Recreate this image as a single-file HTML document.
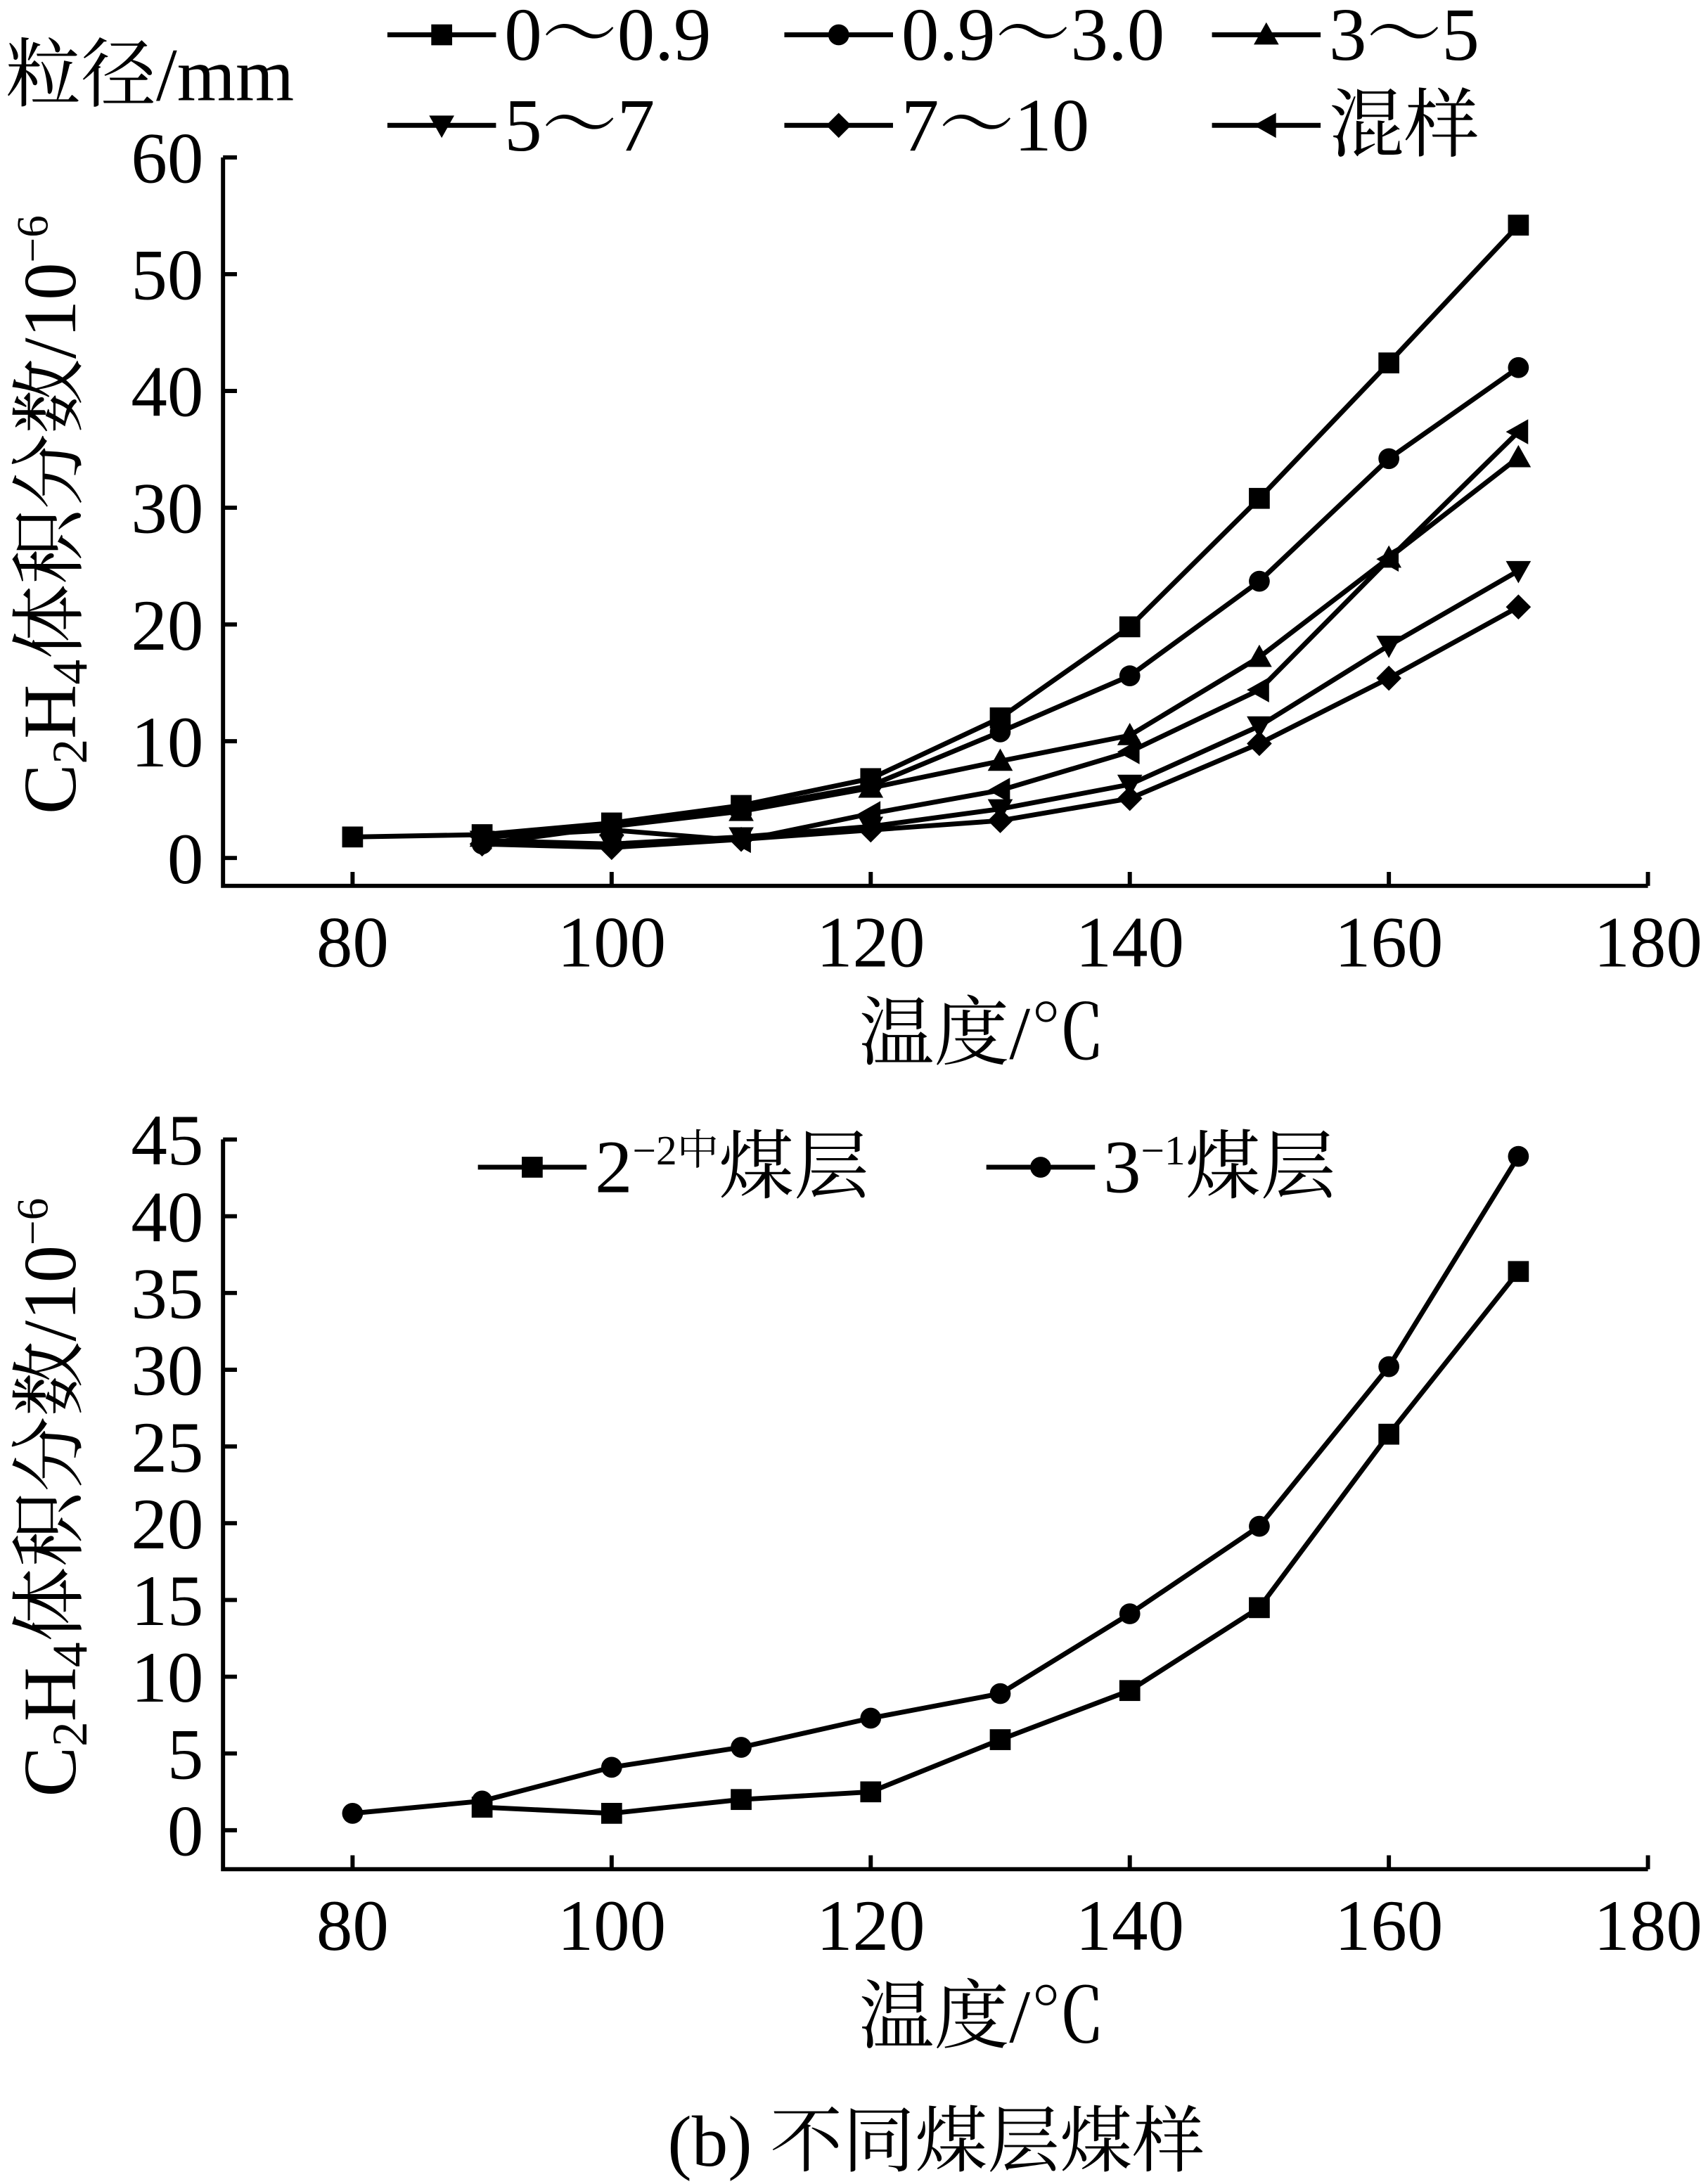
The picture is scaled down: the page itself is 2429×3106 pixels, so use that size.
<!DOCTYPE html>
<html><head><meta charset="utf-8"><style>
html,body{margin:0;padding:0;background:#fff}
svg{display:block}
text{font-family:"Liberation Serif","Noto Serif CJK SC","Noto Sans CJK SC",serif;fill:#000}
</style></head><body>
<svg id="svg" width="2429" height="3106" viewBox="0 0 1226 1568" xmlns="http://www.w3.org/2000/svg">
<g id="top"></g>
<g id="bot"></g>
<text x="672" y="1555" font-size="52" text-anchor="middle">(b)  不同煤层煤样</text>
</svg>
<script>
const xCats = [80, 90, 100, 110, 120, 130, 140, 150, 160, 170];
const xTicks = [80, 100, 120, 140, 160, 180];
const topYTicks = [0, 10, 20, 30, 40, 50, 60];
const topNames = ["0～0.9", "0.9～3.0", "3～5", "5～7", "7～10", "混样"];
const s0 = [1.8, 2.0, 3.0, 4.5, 6.8, 12.0, 19.8, 30.8, 42.4, 54.2];
const s1 = [null, 1.2, 2.7, 4.2, 6.2, 10.8, 15.6, 23.7, 34.2, 42.0];
const s2 = [null, 1.8, 2.7, 4.0, 6.0, 8.3, 10.5, 17.2, 25.7, 34.3];
const s3 = [null, 1.5, 1.2, 1.8, 2.7, 4.2, 6.3, 11.3, 18.2, 24.6];
const s4 = [null, 1.2, 0.9, 1.6, 2.4, 3.2, 5.1, 9.8, 15.4, 21.5];
const s5 = [null, 1.8, 2.4, 1.5, 3.8, 5.8, 9.1, 14.4, 25.6, 36.5];
const botYTicks = [0, 5, 10, 15, 20, 25, 30, 35, 40, 45];
const b0 = [null, 1.5, 1.1, 2.0, 2.5, 5.9, 9.1, 14.5, 25.8, 36.4];
const b1 = [1.1, 1.9, 4.1, 5.4, 7.3, 8.9, 14.1, 19.8, 30.2, 43.9];

const NS = "http://www.w3.org/2000/svg";
function mk(parent, tag, attrs, txt) {
  const e = document.createElementNS(NS, tag);
  for (const k in attrs) e.setAttribute(k, attrs[k]);
  if (txt !== undefined) e.textContent = txt;
  parent.appendChild(e);
  return e;
}
function marker(g, type, x, y) {
  const r = 7.5;
  let el;
  if (type === "square") el = mk(g, "rect", {x: x - r, y: y - r, width: 2 * r, height: 2 * r});
  else if (type === "circle") el = mk(g, "circle", {cx: x, cy: y, r: r});
  else if (type === "up") el = mk(g, "polygon", {points: `${x},${y - 9} ${x - 9},${y + 7} ${x + 9},${y + 7}`});
  else if (type === "down") el = mk(g, "polygon", {points: `${x},${y + 9} ${x - 9},${y - 7} ${x + 9},${y - 7}`});
  else if (type === "diamond") el = mk(g, "polygon", {points: `${x},${y - 9} ${x + 9},${y} ${x},${y + 9} ${x - 9},${y}`});
  else el = mk(g, "polygon", {points: `${x - 9},${y} ${x + 7},${y - 9} ${x + 7},${y + 9}`});
  
  
  el.setAttribute('fill', '#000');
}
function chart(g, o) {
  const xs = v => o.x0 + (v - 80) * o.kx;
  const ys = v => o.y0 - v * o.ky;
  const ax = mk(g, "path", {d: `M${o.left},${o.top} L${o.left},${o.bottom} L${o.right},${o.bottom}`, fill: "none", stroke: "#000", "stroke-width": 3});
  
  
  o.yTicks.forEach(v => {
    const t = mk(g, "line", {x1: o.left, x2: o.left + 10, y1: ys(v), y2: ys(v), stroke: "#000", "stroke-width": 3});
    
    
    const l = mk(g, "text", {x: o.left - 14, y: ys(v) + 18, "font-size": 52, "text-anchor": "end"}, String(v));
    
    
  });
  xTicks.forEach(v => {
    const t = mk(g, "line", {x1: xs(v), x2: xs(v), y1: o.bottom, y2: o.bottom - 10, stroke: "#000", "stroke-width": 3});
    
    
    const l = mk(g, "text", {x: xs(v), y: o.bottom + 58, "font-size": 52, "text-anchor": "middle"}, String(v));
    
    
  });
  const xt = mk(g, "text", {x: 705, y: o.bottom + 124, "font-size": 54, "text-anchor": "middle"}, "温度/℃");
  
  
  const cy = (o.top + o.bottom) / 2 - 5;
  const yt = mk(g, "text", {x: 0, y: 0, "font-size": 54, "text-anchor": "middle", transform: `translate(54,${cy}) rotate(-90)`});
  
  
  mk(yt, "tspan", {}, "C");
  mk(yt, "tspan", {"font-size": 36, dy: 8}, "2");
  mk(yt, "tspan", {dy: -8}, "H");
  mk(yt, "tspan", {"font-size": 36, dy: 8}, "4");
  mk(yt, "tspan", {dy: -8}, "体积分数/10");
  mk(yt, "tspan", {"font-size": 32, dy: -20}, "−6");
  o.series.forEach((s, i) => {
    const sg = mk(g, "g", {});
    
    
    let d = "";
    s.data.forEach((v, j) => { if (v !== null) d += (d ? "L" : "M") + xs(xCats[j]) + "," + ys(v); });
    const p = mk(sg, "path", {d: d, fill: "none", stroke: "#000", "stroke-width": 3.5});
    
    
    s.data.forEach((v, j) => { if (v !== null) marker(sg, s.m, xs(xCats[j]), ys(v)); });
  });
  o.legend.forEach(L => {
    const lg = mk(g, "g", {});
    
    
    const ln = mk(lg, "line", {x1: L.x, x2: L.x + 78, y1: L.y, y2: L.y, stroke: "#000", "stroke-width": 3.5});
    
    
    marker(lg, L.m, L.x + 39, L.y);
    const t = mk(lg, "text", {x: L.x + 84, y: L.y + 18, "font-size": 54}, L.t);
    
    
    if (L.sup) {
      mk(t, "tspan", {"font-size": 30, dy: -20}, L.sup);
      mk(t, "tspan", {dy: 20}, L.rest);
    }
  });
}
const mtypes = ["square", "circle", "up", "down", "diamond", "left"];
chart(document.getElementById("top"), {
  x0: 253, kx: 9.3, y0: 616, ky: 8.383, left: 160, right: 1183, top: 113, bottom: 636,
  yTicks: topYTicks,
  series: [s0, s1, s2, s3, s4, s5].map((d, i) => ({data: d, m: mtypes[i]})),
  legend: [
    {x: 278, y: 25, m: "square", t: topNames[0]},
    {x: 563, y: 25, m: "circle", t: topNames[1]},
    {x: 870, y: 25, m: "up", t: topNames[2]},
    {x: 278, y: 90, m: "down", t: topNames[3]},
    {x: 563, y: 90, m: "diamond", t: topNames[4]},
    {x: 870, y: 90, m: "left", t: topNames[5]}
  ]
});
const cap = document.createElementNS(NS, "text");
cap.setAttribute("x", 4); cap.setAttribute("y", 72); cap.setAttribute("font-size", 54);
cap.textContent = "粒径/mm";


document.getElementById("top").appendChild(cap);
chart(document.getElementById("bot"), {
  x0: 253, kx: 9.3, y0: 1314, ky: 11.02, left: 160, right: 1183, top: 818, bottom: 1342,
  yTicks: botYTicks,
  series: [{data: b0, m: "square"}, {data: b1, m: "circle"}],
  legend: [
    {x: 343, y: 838, m: "square", t: "2", sup: "−2中", rest: "煤层"},
    {x: 708, y: 838, m: "circle", t: "3", sup: "−1", rest: "煤层"}
  ]
});
</script>
</body></html>
